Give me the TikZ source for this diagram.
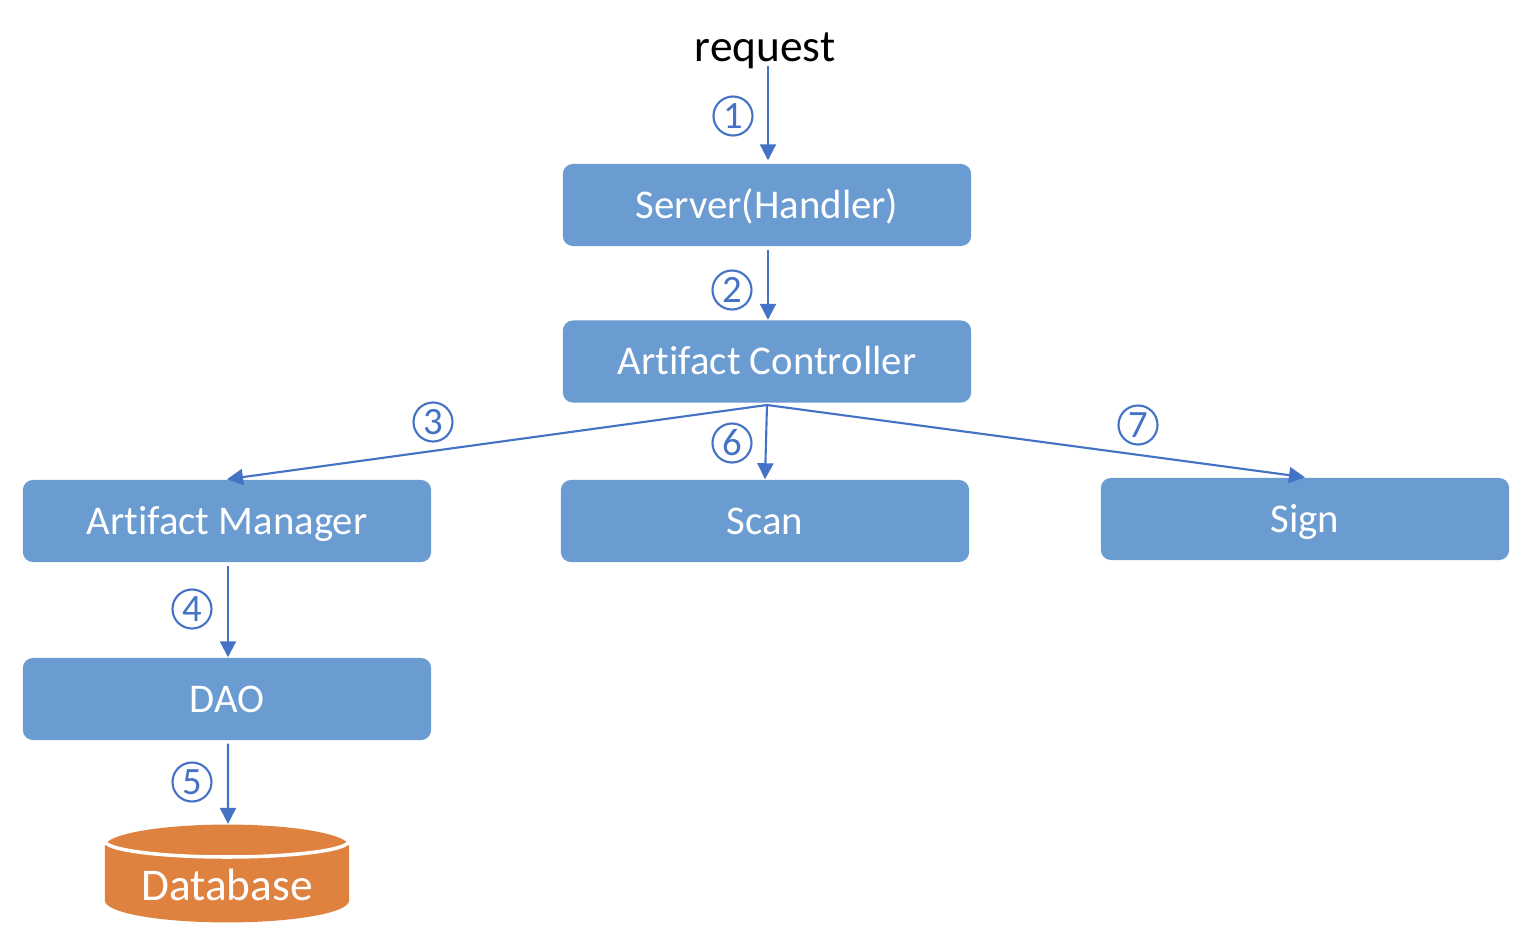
\documentclass[tikz,border=0pt]{standalone}
\usepackage{fontspec}
\setmainfont[Ligatures=NoCommon]{Carlito}
\usetikzlibrary{arrows.meta,shapes.geometric}
\definecolor{boxblue}{HTML}{6A9BD1}
\definecolor{linkblue}{HTML}{4472C4}
\definecolor{dborange}{HTML}{E0823F}
\tikzstyle{block} = [rectangle,rounded corners=0.1cm,fill=boxblue,text=white,minimum width=4.08cm,minimum height=0.82cm,inner sep=0pt,text height=0.26cm,text depth=0cm,font=\fontsize{11.6}{13}\selectfont]
\tikzstyle{edge} = [draw=linkblue,line width=0.6pt,-{Triangle[length=0.16cm,width=0.16cm]}]
\tikzstyle{step num} = [circle,draw=linkblue,line width=0.6pt,text=linkblue,minimum size=0.39cm,inner sep=0pt,font=\fontsize{11}{12}\selectfont]
\begin{document}
\begin{tikzpicture}[x=0.01cm,y=-0.01cm]
	\useasboundingbox (0,0) rectangle (1532,948);

	\node[font=\fontsize{12.9}{14}\selectfont,inner sep=0pt] (request) at (765,51) {request};

	\node[block] (server) at (767,205) {Server(Handler)};
	\node[block] (controller) at (767,361.5) {Artifact Controller};
	\node[block] (manager) at (227,521) {Artifact Manager};
	\node[block] (scan) at (765,521) {Scan};
	\node[block] (sign) at (1305,519) {Sign};
	\node[block] (dao) at (227,699) {DAO};

	\node[cylinder,shape border rotate=90,aspect=0.254,anchor=shape center,fill=dborange,text=white,minimum width=2.44cm,minimum height=0.94cm,inner sep=0pt,font=\fontsize{12.9}{14}\selectfont] (db) at (227,873.5) {Database};
	\draw[white,line width=1pt] (105,841) arc[start angle=180,end angle=0,x radius=122,y radius=16];

	\foreach \name/\x/\y/\num in {n1/733/116/1, n2/732/290/2, n3/433/422/3, n4/192/609/4, n5/192/782/5, n6/732/443/6, n7/1138/425/7}
		\node[step num] (\name) at (\x,\y) {\num};

	\coordinate (fork) at (767,405);

	\path[edge] ([xshift=0.01cm,yshift=0.04cm]server.north |- request.south) -- ([xshift=0.01cm,yshift=0.03cm]server.north);
	\foreach \source/\dest in {server/controller, manager/dao, dao/db}
		\path[edge] ([xshift=0.01cm,yshift=-0.03cm]\source.south) -- ([xshift=0.01cm]\dest.north);
	\foreach \dest in {manager, scan, sign}
		\path[edge] (fork) -- (\dest.north);
\end{tikzpicture}
\end{document}
